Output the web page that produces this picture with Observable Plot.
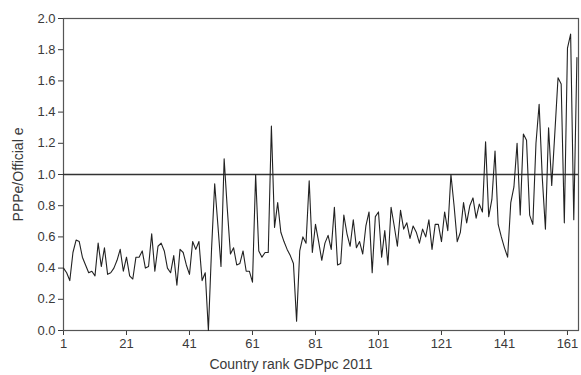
<!DOCTYPE html>
<html>
<head>
<meta charset="utf-8">
<script src="https://cdn.jsdelivr.net/npm/d3@7"></script>
<script src="https://cdn.jsdelivr.net/npm/@observablehq/plot@0.6"></script>
<style>
  html, body { margin: 0; padding: 0; background: #fff; }
  #chart svg { display: block; }
</style>
</head>
<body>
<div id="chart"></div>
<script>
// Country rank (1..164) and PPPe / Official e ratio
const ratios = [
  0.40, 0.37, 0.32, 0.50, 0.58, 0.57, 0.47, 0.42, 0.37, 0.38,
  0.35, 0.56, 0.41, 0.53, 0.36, 0.37, 0.40, 0.45, 0.52, 0.38,
  0.47, 0.35, 0.33, 0.47, 0.47, 0.51, 0.40, 0.41, 0.62, 0.38,
  0.54, 0.56, 0.51, 0.40, 0.37, 0.48, 0.29, 0.52, 0.50, 0.42,
  0.36, 0.57, 0.52, 0.57, 0.32, 0.37, 0.00, 0.52, 0.94, 0.68,
  0.41, 1.10, 0.78, 0.49, 0.53, 0.42, 0.43, 0.51, 0.38, 0.38,
  0.31, 1.00, 0.51, 0.47, 0.50, 0.50, 1.31, 0.66, 0.82, 0.63,
  0.57, 0.52, 0.48, 0.43, 0.06, 0.51, 0.60, 0.56, 0.96, 0.50,
  0.68, 0.57, 0.45, 0.56, 0.61, 0.52, 0.79, 0.42, 0.43, 0.74,
  0.62, 0.54, 0.71, 0.53, 0.57, 0.49, 0.67, 0.76, 0.37, 0.73,
  0.76, 0.47, 0.64, 0.42, 0.79, 0.67, 0.54, 0.77, 0.65, 0.69,
  0.59, 0.67, 0.63, 0.56, 0.65, 0.60, 0.71, 0.52, 0.68, 0.68,
  0.57, 0.76, 0.64, 1.00, 0.80, 0.57, 0.63, 0.82, 0.69, 0.80,
  0.85, 0.72, 0.81, 0.76, 1.21, 0.73, 0.84, 1.15, 0.68, 0.60,
  0.53, 0.47, 0.82, 0.92, 1.20, 0.74, 1.26, 1.22, 0.74, 0.68,
  1.20, 1.45, 0.98, 0.65, 1.30, 0.93, 1.27, 1.62, 1.58, 0.69,
  1.81, 1.90, 0.71, 1.75
];
const ranks = ratios.map((_, i) => i + 1);
const xTicks = [1, 21, 41, 61, 81, 101, 121, 141, 161];
const yTicks = [0, 0.2, 0.4, 0.6, 0.8, 1.0, 1.2, 1.4, 1.6, 1.8, 2.0];
const refLine = [1.0];
const xTitle = ["Country rank GDPpc 2011"];
const yTitle = ["PPPe/Official e"];

const font = "'Liberation Sans', Arial, sans-serif";

const chart = Plot.plot({
  width: 581,
  height: 375,
  marginLeft: 63,
  marginRight: 3,
  marginTop: 18,
  marginBottom: 45,
  style: { fontFamily: font, fontSize: "13px", color: "#3a3a3a", background: "#fff" },
  x: {
    domain: [1, 164.5],
    ticks: xTicks,
    tickFormat: d3.format("d"),
    tickSize: 5,
    tickPadding: 3,
    label: null
  },
  y: {
    domain: [0, 2],
    ticks: yTicks,
    tickFormat: d3.format(".1f"),
    tickSize: 5,
    tickPadding: 3,
    label: null
  },
  marks: [
    Plot.frame({ stroke: "#555", strokeWidth: 1.2 }),
    Plot.ruleY(refLine, { stroke: "#333", strokeWidth: 1.3 }),
    Plot.lineY(ratios, { x: ranks, y: ratios, stroke: "#222", strokeWidth: 1.1 }),
    Plot.text(xTitle, { frameAnchor: "bottom", dy: 38, dx: -30, textAnchor: "middle", fontSize: 14, fill: "#3a3a3a", text: d => d }),
    Plot.text(yTitle, { frameAnchor: "left", dx: -45, rotate: -90, textAnchor: "middle", fontSize: 14, fill: "#3a3a3a", text: d => d })
  ]
});
document.getElementById("chart").appendChild(chart);
</script>
</body>
</html>
